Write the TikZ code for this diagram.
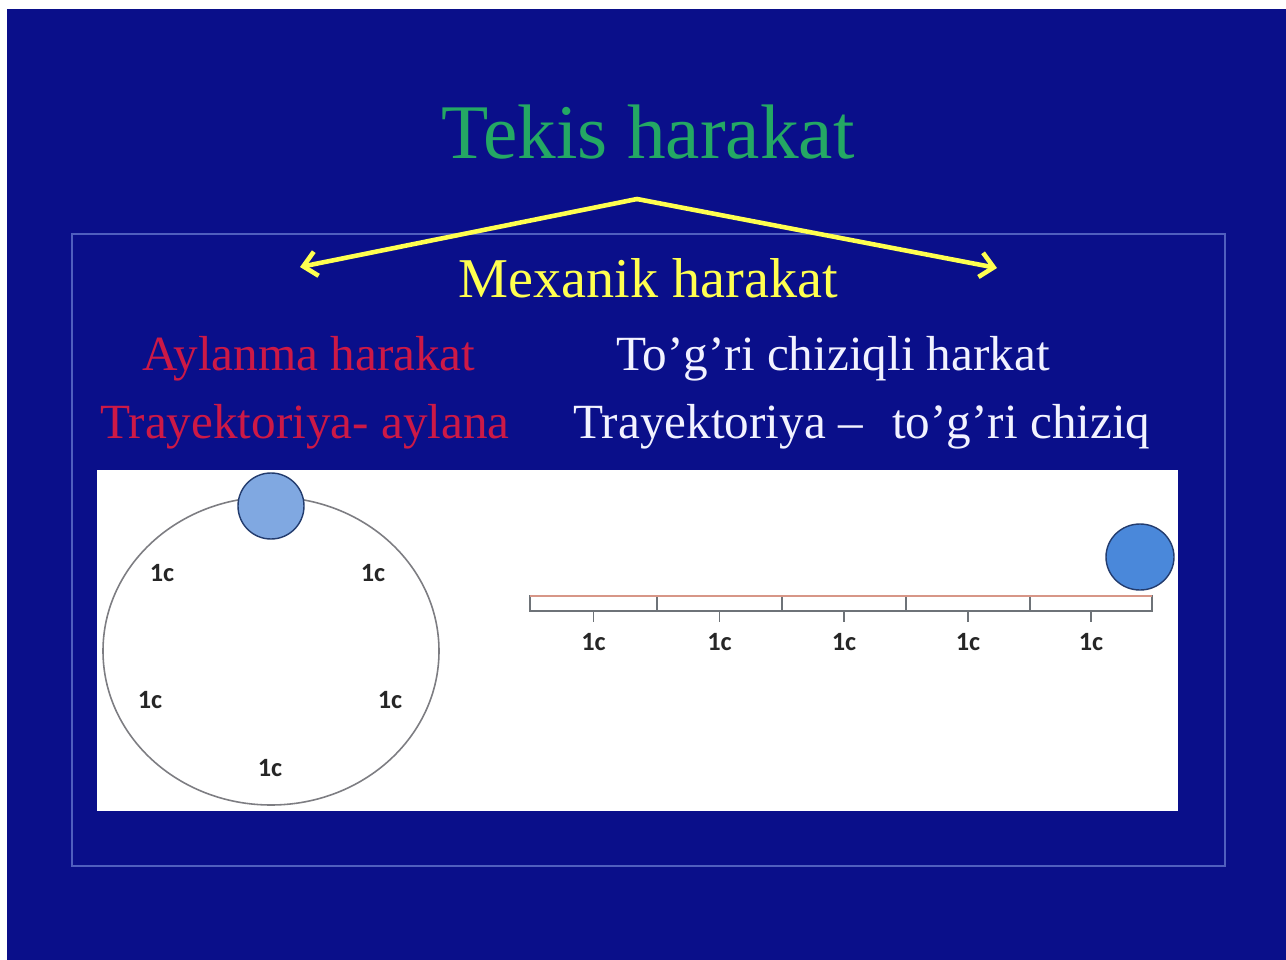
\documentclass[tikz,border=0pt]{standalone}
\usepackage{fontspec}
\setmainfont{Liberation Serif}
\newfontfamily\lblfont{Carlito}
\usetikzlibrary{arrows.meta}
\definecolor{bg}{RGB}{10,15,138}
\definecolor{framecol}{RGB}{80,95,190}
\definecolor{titlegreen}{RGB}{36,168,100}
\definecolor{txtyellow}{RGB}{255,255,80}
\definecolor{txtred}{RGB}{205,25,70}
\definecolor{txtwhite}{RGB}{242,242,255}
\definecolor{ringgray}{RGB}{125,125,130}
\definecolor{ballA}{RGB}{128,168,225}
\definecolor{ballB}{RGB}{74,136,218}
\definecolor{ballline}{RGB}{35,60,110}
\definecolor{barpink}{RGB}{215,150,135}
\definecolor{bargray}{RGB}{110,115,120}
\tikzset{
  ttl/.style={anchor=base, text=titlegreen, font=\fontsize{44}{50}\selectfont},
  sub/.style={anchor=base, text=txtyellow, font=\fontsize{32}{36}\selectfont},
  redtxt/.style={anchor=base, text=txtred, font=\fontsize{28}{32}\selectfont},
  whtxt/.style={anchor=base, text=txtwhite, font=\fontsize{28}{32}\selectfont},
  lbl/.style={text=black!85, font=\lblfont\bfseries\fontsize{15}{17}\selectfont, inner sep=0pt},
  arrowline/.style={draw=txtyellow, line width=2.6pt, line cap=round, line join=round,
    -{Straight Barb[length=7.5pt, width=14pt, line width=2.6pt]}},
  ring/.style={draw=ringgray, line width=0.9pt},
  ballstyle/.style={draw=ballline, line width=0.8pt},
  seg/.style={draw=bargray, line width=0.9pt, fill=white},
  tick/.style={draw=bargray, line width=1pt}
}
\begin{document}
\begin{tikzpicture}[x=0.02cm,y=-0.02cm]
\useasboundingbox (0,0) rectangle (1286,960);
\fill[white] (0,0) rectangle (1286,960);
\fill[bg] (7,9) rectangle (1286,960);
% frame and white panel
\draw[framecol, line width=0.8pt] (72,234) rectangle (1225,866);
\fill[white] (97,470) rectangle (1178,811);
% title and texts
\node[ttl] (title) at (648,158) {Tekis harakat};
\node[sub] (mex) at (648,297) {Mexanik harakat};
\node[redtxt] (ayl) at (309,370) {Aylanma harakat};
\node[whtxt] (tog) at (833,370) {To’g’ri chiziqli harkat};
\node[redtxt] (tra) at (305,438) {Trayektoriya- aylana};
\node[whtxt] (trb) at (862,438) {Trayektoriya –\hspace{0.6em}to’g’ri chiziq};
% arrows
\coordinate (apex) at (637,199);
\coordinate (lt) at (300,267);
\coordinate (rt) at (997,268);
\draw[arrowline] (apex) -- (lt);
\draw[arrowline] (apex) -- (rt);
% circular trajectory
\draw[ring] (271,651) ellipse [x radius=168, y radius=154];
\draw[ballstyle, fill=ballA] (271,506) circle [radius=33];
\node[lbl] (c1) at (162,573) {1c};
\node[lbl] (c2) at (373,573) {1c};
\node[lbl] (c3) at (150,700) {1c};
\node[lbl] (c4) at (390,700) {1c};
\node[lbl] (c5) at (270,768) {1c};
% straight trajectory
\foreach \a/\b in {530/657, 657/782, 782/906, 906/1030, 1030/1152} {
  \draw[seg] (\a,596) rectangle (\b,611);
  \draw[tick] ({(\a+\b)/2},611) -- ({(\a+\b)/2},622);
  \node[lbl] at ({(\a+\b)/2},642) {1c};
}
\draw[draw=barpink, line width=1pt] (530,596) -- (1152,596);
\draw[ballstyle, fill=ballB] (1140,557) ellipse [x radius=34, y radius=33];
\end{tikzpicture}
\end{document}
